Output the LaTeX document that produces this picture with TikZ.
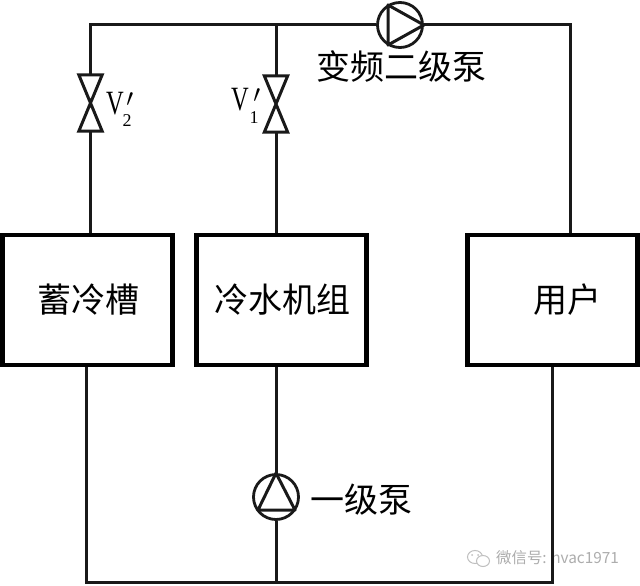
\documentclass[tikz,border=0pt]{standalone}
\usepackage{fontspec}
\setmainfont{Liberation Serif}
\newfontfamily\cjk{Noto Sans CJK SC}
\tikzset{
  x=1pt,y=-1pt,
  pipe/.style={draw=black!90,line width=3pt},
  unitbox/.style={draw=black,line width=4.2pt,minimum width=170pt,minimum height=130pt,inner sep=0pt,font=\cjk\fontsize{34}{38}\selectfont},
  pumpc/.style={circle,draw=black!90,line width=2.8pt,minimum size=45pt,inner sep=0pt},
  valvebox/.style={minimum width=23pt,minimum height=56pt,inner sep=0pt},
  lab/.style={inner sep=0pt,font=\cjk\fontsize{34}{38}\selectfont},
  vlab/.style={inner sep=0pt,font=\fontsize{34}{38}\selectfont,xscale=.72},
  vsub/.style={inner sep=0pt,font=\fontsize{18}{20}\selectfont},
  vprime/.style={inner sep=0pt,font=\fontsize{34}{38}\selectfont},
  wmark/.style={inner sep=0pt,font=\cjk\fontsize{15.4}{18}\selectfont,text=black!32}
}
\begin{document}
\begin{tikzpicture}
\useasboundingbox (0,0) rectangle (640,586);
\fill[white] (0,0) rectangle (640,586);
% watermark
\draw[black!25,line width=1pt] (475,557) ellipse (7.5pt and 6.5pt);
\fill[black!25] (472,555) circle (1pt) (478,555) circle (1pt);
\draw[black!25,fill=white,line width=1pt] (483,561) ellipse (6.5pt and 5.5pt);
\node[wmark,anchor=west] (wm) at (496,558) {微信号: hvac1971};
% units
\node[unitbox] (tank) at (87.5,300) {\hspace*{2pt}蓄冷槽};
\node[unitbox] (chiller) at (281.5,300) {\hspace*{2pt}冷水机组};
\node[unitbox] (user) at (552.5,300) {\hspace*{30pt}用户};
% pumps and valves
\node[pumpc] (p2) at (400,25) {};
\node[pumpc] (p1) at (276,497) {};
\node[valvebox] (v2) at (90.5,103) {};
\node[valvebox] (v1) at (276,104) {};
% junctions
\coordinate (tl) at (90.5,25);
\coordinate (tm) at (276,25);
\coordinate (tr) at (570,25);
\coordinate (bl) at (86,582);
\coordinate (bm) at (276,582);
\coordinate (br) at (552,582);
% pipes
\draw[pipe,line join=miter] (v2.north) -- (tl) -- (tm) -- (p2.west);
\draw[pipe] (tm) -- (v1.north);
\draw[pipe,line join=miter] (p2.east) -- (tr) -- (tr|-user.north);
\draw[pipe] (v2.south) -- (v2.south|-tank.north);
\draw[pipe] (v1.south) -- (v1.south|-chiller.north);
\draw[pipe,line join=miter] (bl|-tank.south) -- (bl) -- (br) -- (br|-user.south);
\draw[pipe] (p1.north) -- (p1.north|-chiller.south);
\draw[pipe] (p1.south) -- (bm);
% valve symbols
\draw[pipe,line join=miter] (v2.north west) -- (v2.north east) -- (v2.south west) -- (v2.south east) -- cycle;
\draw[pipe,line join=miter] (v1.north west) -- (v1.north east) -- (v1.south west) -- (v1.south east) -- cycle;
% pump symbols
\draw[pipe,line join=round] (p2.east) -- (388,5) -- (388,45) -- cycle;
\draw[pipe,line join=round] (p1.north) -- (258,510) -- (295,510) -- cycle;
% labels
\node[lab] (l2) at (401,66) {变频二级泵};
\node[lab] (l1) at (361,500) {一级泵};
\node[vlab] (vl2) at (115,104) {V};
\node[vprime] (vp2) at (130,104) {$'$};
\node[vsub] (vs2) at (127,121) {2};
\node[vlab] (vl1) at (240,100) {V};
\node[vprime] (vp1) at (257,100) {$'$};
\node[vsub] (vs1) at (254,118) {1};
\end{tikzpicture}
\end{document}
